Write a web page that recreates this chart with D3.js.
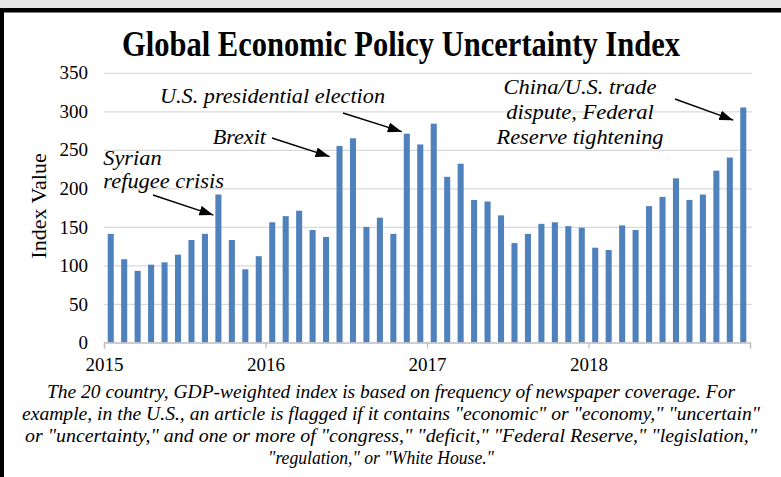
<!DOCTYPE html>
<html>
<head>
<meta charset="utf-8">
<script src="https://cdn.jsdelivr.net/npm/d3@7"></script>
<style>
  html, body { margin: 0; padding: 0; background: #e6e6e6; }
  svg { display: block; }
  text, tspan { font-family: "Liberation Serif", "Times New Roman", "DejaVu Serif", serif; fill: #000; }
</style>
</head>
<body>
<svg id="chart" width="781" height="477"></svg>
<script>
// ---- data ----
const years = [2015, 2016, 2017, 2018];
const monthKeys = years.flatMap(y => d3.range(1, 13).map(m => `${y}-${String(m).padStart(2, "0")}`));
const indexValues = [
  141, 108, 93, 101, 104, 114, 133, 141, 192, 133, 95, 112,
  156, 164, 171, 146, 137, 255, 265, 150, 162, 141, 271, 257,
  284, 215, 232, 185, 183, 165, 129, 141, 154, 156, 151, 149,
  123, 120, 152, 146, 177, 189, 213, 185, 192, 223, 240, 305
];
const yearLabels = ["2015", "2016", "2017", "2018"];
const yTickValues = [0, 50, 100, 150, 200, 250, 300, 350];
const titleText = "Global Economic Policy Uncertainty Index";
const yAxisTitle = "Index Value";
const captionLines = [
  "The 20 country, GDP-weighted index is based on frequency of newspaper coverage. For",
  "example, in the U.S., an article is flagged if it contains \"economic\" or \"economy,\" \"uncertain\"",
  "or \"uncertainty,\" and one or more of \"congress,\" \"deficit,\" \"Federal Reserve,\"  \"legislation,\"",
  "\"regulation,\" or \"White House.\""
];
const noteTexts = [
  ["Syrian", "refugee crisis"],
  ["Brexit"],
  ["U.S. presidential election"],
  ["China/U.S. trade", "dispute, Federal", "Reserve tightening"]
];
const noteMonths = ["2015-09", "2016-06", "2016-11", "2018-12"];

// ---- layout ----
const W = 781, H = 477;
const plot = { left: 104, right: 750, top: 72.8, bottom: 342.5 };
const barColor = "#4f81bd";
const SERIF = "'Liberation Serif', 'Times New Roman', 'DejaVu Serif', serif";

const svg = d3.select("#chart");

// frame: grey strip on top, thick black border on top and left
svg.append("rect").attr("x", 0).attr("y", 0).attr("width", W).attr("height", H).attr("fill", "#e6e6e6");
svg.append("rect").attr("x", 0).attr("y", 8).attr("width", W).attr("height", H - 8).attr("fill", "#000");
svg.append("rect").attr("x", 4).attr("y", 12.5).attr("width", W - 4).attr("height", H - 12.5).attr("fill", "#fff");

const x = d3.scaleBand().domain(monthKeys).range([plot.left, plot.right]).paddingInner(0.55).paddingOuter(0.275);
const xPos = d3.scaleLinear().domain([0, monthKeys.length]).range([plot.left, plot.right]);
const y = d3.scaleLinear().domain([0, 350]).range([plot.bottom, plot.top]);

// gridlines
const grid = svg.append("g").attr("transform", `translate(${plot.left},0)`)
  .call(d3.axisLeft(y).tickValues(yTickValues.filter(v => v > 0)).tickSize(-(plot.right - plot.left + 2)).tickFormat(""));
grid.select(".domain").remove();
grid.selectAll("line").attr("stroke", "#d9d9d9").attr("stroke-width", 1.3);

// y tick labels
const yAxis = svg.append("g").attr("transform", `translate(${plot.left},0)`)
  .call(d3.axisLeft(y).tickValues(yTickValues).tickSize(0).tickPadding(16).tickFormat(d3.format("d")));
yAxis.select(".domain").remove();
yAxis.attr("font-family", null);
yAxis.selectAll("text").style("font-family", SERIF).style("font-size", "19px").attr("fill", "#000");

// bars
svg.append("g").selectAll("rect").data(indexValues).join("rect")
  .attr("x", (d, i) => x(monthKeys[i]))
  .attr("width", x.bandwidth())
  .attr("y", d => y(d))
  .attr("height", d => y(0) - y(d))
  .attr("fill", barColor);

// x axis with year boundaries
const xAxis = svg.append("g").attr("transform", `translate(0,${plot.bottom})`)
  .call(d3.axisBottom(xPos).tickValues([0, 12, 24, 36, 48]).tickSize(6).tickPadding(9)
    .tickFormat((d, i) => yearLabels[i] || ""));
xAxis.attr("font-family", null);
xAxis.select(".domain").attr("stroke", "#bfbfbf").attr("stroke-width", 1.3);
xAxis.selectAll("line").attr("stroke", "#bfbfbf").attr("stroke-width", 1.3);
xAxis.selectAll("text").style("font-family", SERIF).style("font-size", "19px").attr("fill", "#000");

// title
svg.append("text").attr("x", 401).attr("y", 56).attr("text-anchor", "middle")
  .style("font-family", SERIF).style("font-size", "35px").style("font-weight", "bold")
  .attr("textLength", 558).attr("lengthAdjust", "spacingAndGlyphs")
  .text(titleText);

// y axis title
svg.append("text").attr("transform", "translate(46,206) rotate(-90)")
  .attr("text-anchor", "middle")
  .style("font-family", SERIF).style("font-size", "22px")
  .text(yAxisTitle);

// annotations
const noteLayout = [
  { x: 103.3, y: 165, anchor: "start", lh: 23.3, widths: [58.3, 120.7], from: [153, 195], tip: [-5, 20.5] },
  { x: 212.7, y: 144, anchor: "start", lh: 0, widths: [53.3], from: [272, 138], tip: [-10, 10.6] },
  { x: 160, y: 103, anchor: "start", lh: 0, widths: [225], from: [343, 113], tip: [-5, -2] },
  { x: 580, y: 94.3, anchor: "middle", lh: 25, widths: [153, 147.7, 167], from: [675, 99], tip: [-10, 12.7] }
];

const defs = svg.append("defs");
defs.append("marker").attr("id", "arrowhead")
  .attr("markerUnits", "userSpaceOnUse")
  .attr("viewBox", "0 0 14 10").attr("refX", 14).attr("refY", 5)
  .attr("markerWidth", 14).attr("markerHeight", 10).attr("orient", "auto")
  .append("path").attr("d", "M0,0 L14,5 L0,10 Z").attr("fill", "#000");

noteTexts.forEach((lines, k) => {
  const L = noteLayout[k];
  const t = svg.append("text")
    .style("font-family", SERIF).style("font-size", "22px").style("font-style", "italic")
    .attr("text-anchor", L.anchor);
  lines.forEach((ln, j) => {
    t.append("tspan").attr("x", L.x).attr("y", L.y + j * L.lh)
      .attr("textLength", L.widths[j]).attr("lengthAdjust", "spacingAndGlyphs")
      .text(ln);
  });
  const m = noteMonths[k];
  const idx = monthKeys.indexOf(m);
  const tx = x(m) + x.bandwidth() / 2 + L.tip[0];
  const ty = y(indexValues[idx]) + L.tip[1];
  svg.append("line").attr("x1", L.from[0]).attr("y1", L.from[1]).attr("x2", tx).attr("y2", ty)
    .attr("stroke", "#000").attr("stroke-width", 1.4).attr("marker-end", "url(#arrowhead)");
});

// caption
const capLayout = [
  { x: 391, y: 398, w: 688 },
  { x: 391, y: 420, w: 738 },
  { x: 391, y: 442, w: 732 },
  { x: 381, y: 464, w: 226 }
];
captionLines.forEach((ln, i) => {
  const c = capLayout[i];
  svg.append("text").attr("x", c.x).attr("y", c.y).attr("text-anchor", "middle")
    .style("font-family", SERIF).style("font-size", "19px").style("font-style", "italic")
    .attr("textLength", c.w).attr("lengthAdjust", "spacingAndGlyphs")
    .text(ln);
});
</script>
</body>
</html>
